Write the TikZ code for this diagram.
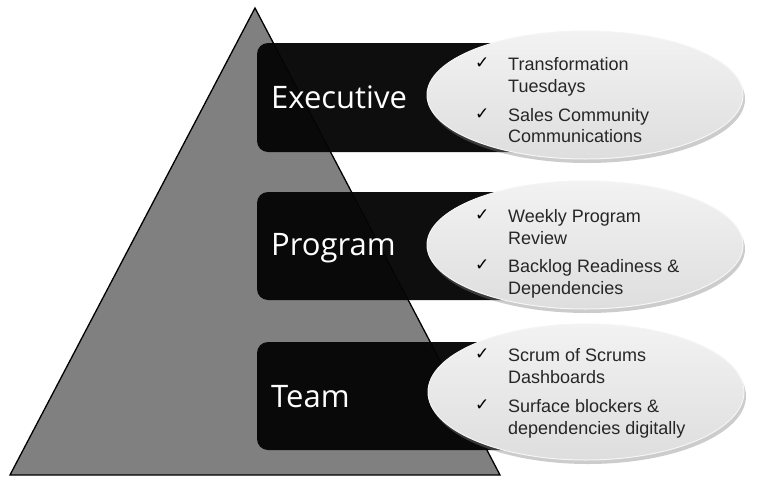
\documentclass[tikz,border=0pt]{standalone}
\usepackage{fontspec}
\setmainfont{Liberation Sans}
\newfontfamily\labfont{Open Sans}
\newfontfamily\symfont{DejaVu Sans}
\usetikzlibrary{shadows,shapes.geometric}
\definecolor{trigray}{HTML}{808080}
\definecolor{barblack}{HTML}{050505}
\tikzset{
  x=1pt, y=-1pt,
  tri/.style={fill=trigray, draw=black, line width=1.3pt, line join=miter},
  bar/.style={fill=barblack, fill opacity=0.96, draw=none, rounded corners=11pt},
  oval/.style={ellipse, minimum width=316pt, minimum height=128pt, inner sep=0pt,
     top color=gray!10, bottom color=gray!26, draw=gray!8, line width=1pt,
     drop shadow={opacity=0.4, shadow xshift=2pt, shadow yshift=-4pt}},
  lab/.style={anchor=base west, text=white, font=\labfont\fontsize{31}{34}\selectfont, inner sep=0pt},
  item/.style={anchor=base west, text=black!85, font=\fontsize{18}{21}\selectfont, inner sep=0pt},
  chk/.style={anchor=base west, text=black, font=\symfont\fontsize{17}{19}\selectfont, inner sep=0pt},
}
\begin{document}
\begin{tikzpicture}
\useasboundingbox (0,0) rectangle (766,485);
\fill[white] (0,0) rectangle (766,485);
% pyramid
\draw[tri] (255,8) -- (500,475) -- (10,475) -- cycle;
% bars
\fill[bar] (257,43) rectangle (580,152);
\fill[bar] (257,192) rectangle (580,300);
\fill[bar] (257,342) rectangle (580,450);
% ellipses
\node[oval] (e1) at (585,95) {};
\node[oval] (e2) at (585,245) {};
\node[oval, minimum height=136pt] (e3) at (586,392) {};
% labels
\node[lab] (l1) at (271,108) {Executive};
\node[lab] (l2) at (271,255) {Program};
\node[lab] (l3) at (271,407) {Team};
% executive items
\node[chk] (c11) at (475,68) {✓};
\node[item] (t11) at (508,70) {Transformation};
\node[item] (t12) at (508,92) {Tuesdays};
\node[chk] (c12) at (475,119) {✓};
\node[item] (t13) at (508,121) {Sales Community};
\node[item] (t14) at (508,142) {Communications};
% program items
\node[chk] (c21) at (475,220) {✓};
\node[item] (t21) at (508,222) {Weekly Program};
\node[item] (t22) at (508,244) {Review};
\node[chk] (c22) at (475,270) {✓};
\node[item] (t23) at (508,272) {Backlog Readiness \&};
\node[item] (t24) at (508,294) {Dependencies};
% team items
\node[chk] (c31) at (475,359) {✓};
\node[item] (t31) at (508,361) {Scrum of Scrums};
\node[item] (t32) at (508,383) {Dashboards};
\node[chk] (c32) at (475,410) {✓};
\node[item] (t33) at (508,412) {Surface blockers \&};
\node[item] (t34) at (508,434) {dependencies digitally};
\end{tikzpicture}
\end{document}
